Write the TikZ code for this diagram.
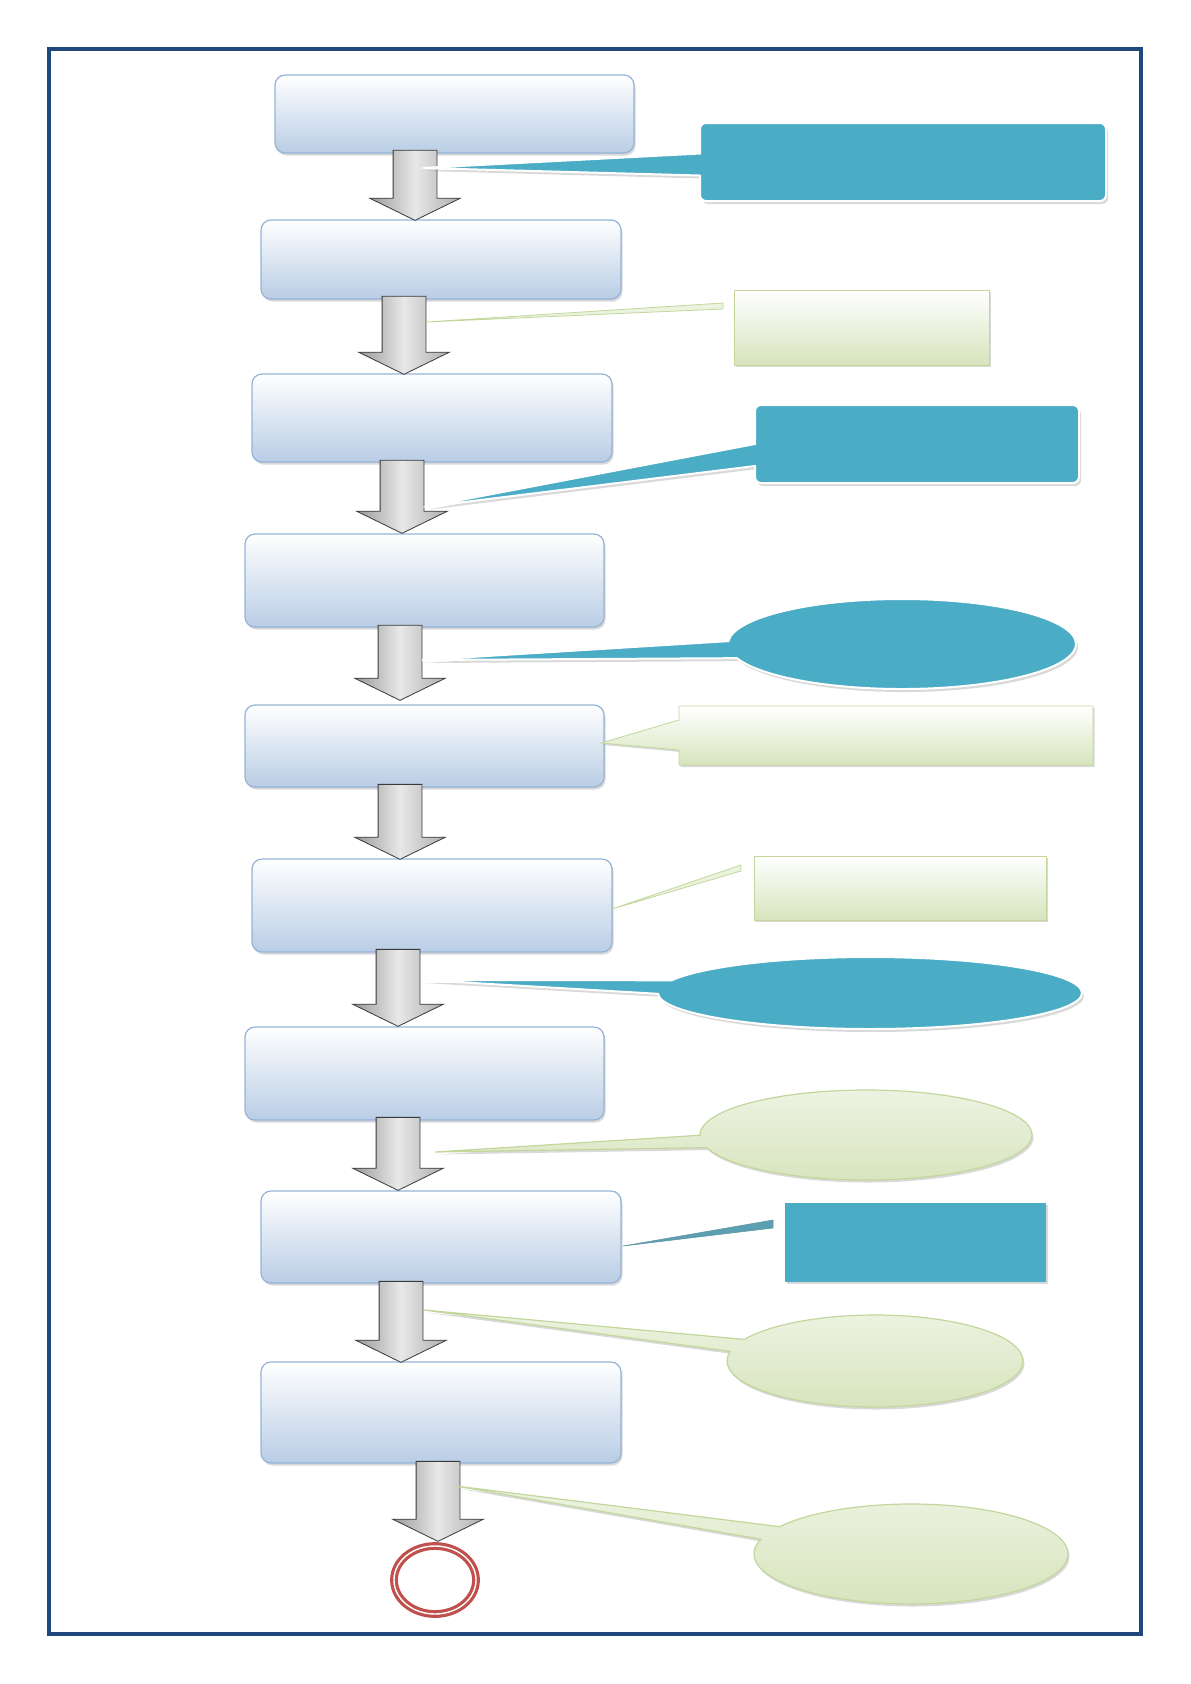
\documentclass[tikz,border=0pt]{standalone}
\usepackage{tikz}
\usetikzlibrary{shapes.arrows,shapes.callouts,shapes.geometric,shadows}

\definecolor{framebl}{RGB}{31,73,125}
\definecolor{boxedge}{RGB}{149,179,215}
\definecolor{boxfill}{RGB}{185,205,229}
\definecolor{aqua}{RGB}{75,172,198}
\definecolor{leaf}{RGB}{215,228,189}
\definecolor{leafedge}{RGB}{195,214,155}
\definecolor{ringred}{RGB}{192,80,77}

\begin{document}
\begin{tikzpicture}[
  x=1pt, y=-1pt,
  stepbox/.style={rectangle, rounded corners=10pt, draw=boxedge, line width=1.2pt, top color=white, bottom color=boxfill, inner sep=0pt, drop shadow={opacity=0.3, shadow xshift=1.5pt, shadow yshift=-2.5pt}},
  downarr/.style={single arrow, shape border rotate=270, draw=gray!45!black, line width=0.8pt, left color=gray!80, right color=gray!65, middle color=gray!18, single arrow head extend=23.5pt, single arrow tip angle=128, inner sep=21.5pt},
  aquanote/.style={rectangle callout, rounded corners=6pt, fill=aqua, draw=white, line width=2pt, inner sep=0pt, callout pointer width=22pt, drop shadow={opacity=0.3, shadow xshift=2pt, shadow yshift=-3pt}},
  aquaoval/.style={ellipse callout, fill=aqua, draw=white, line width=2pt, inner sep=0pt, callout pointer arc=22, drop shadow={opacity=0.3, shadow xshift=2pt, shadow yshift=-3pt}},
  leafnote/.style={rectangle, top color=white, bottom color=leaf, draw=leafedge, line width=0.6pt, inner sep=0pt, drop shadow={opacity=0.3, shadow xshift=1.5pt, shadow yshift=-2pt}},
  leafcall/.style={rectangle callout, top color=white, bottom color=leaf, draw=leafedge, line width=0.8pt, inner sep=0pt, callout pointer width=30pt, drop shadow={opacity=0.3, shadow xshift=1.5pt, shadow yshift=-2pt}},
  leafoval/.style={ellipse callout, top color=leaf!45, bottom color=leaf, draw=leafedge, line width=1.2pt, inner sep=0pt, callout pointer arc=16, drop shadow={opacity=0.3, shadow xshift=1.5pt, shadow yshift=-2.5pt}},
  thinptr/.style={fill=leaf!50, draw=leafedge, line width=0.8pt},
  aquaptr/.style={fill=aqua!70!gray, draw=aqua!55!gray, line width=0.6pt},
  endring/.style={ellipse, draw=ringred, line width=3.2pt, double=white, double distance=1.4pt, inner sep=0pt}
]
\useasboundingbox (0,0) rectangle (1191,1684);

% page frame
\draw[framebl, line width=4.5pt] (49,49) rectangle (1141,1634);

% process steps
\node[stepbox, minimum width=359pt, minimum height=78pt] (s1) at (454.5,114) {};
\node[stepbox, minimum width=360pt, minimum height=79pt] (s2) at (441,259.5) {};
\node[stepbox, minimum width=360pt, minimum height=88pt] (s3) at (432,418) {};
\node[stepbox, minimum width=359pt, minimum height=93pt] (s4) at (424.5,580.5) {};
\node[stepbox, minimum width=359pt, minimum height=82pt] (s5) at (424.5,746) {};
\node[stepbox, minimum width=360pt, minimum height=93pt] (s6) at (432,905.5) {};
\node[stepbox, minimum width=359pt, minimum height=93pt] (s7) at (424.5,1073.5) {};
\node[stepbox, minimum width=360pt, minimum height=92pt] (s8) at (441,1237) {};
\node[stepbox, minimum width=360pt, minimum height=101pt] (s9) at (441,1412.5) {};

% block arrows
\node[downarr, minimum height=70pt] (a1) at (415,180) {};
\node[downarr, minimum height=78pt] (a2) at (404,330) {};
\node[downarr, minimum height=73pt] (a3) at (402,491.5) {};
\node[downarr, minimum height=75pt] (a4) at (400,657.5) {};
\node[downarr, minimum height=75pt] (a5) at (400,816.5) {};
\node[downarr, minimum height=77pt] (a6) at (398,982.5) {};
\node[downarr, minimum height=73pt] (a7) at (398,1148.5) {};
\node[downarr, minimum height=81pt] (a8) at (401,1316.5) {};
\node[downarr, minimum height=80pt] (a9) at (438,1496) {};

% end
\node[endring, minimum width=82pt, minimum height=68pt] (fin) at (435,1580) {};

% pointer tips
\coordinate (p1) at (422,168);
\coordinate (p2) at (426,322);
\coordinate (p3) at (424,507);
\coordinate (p4) at (422,660);
\coordinate (p5) at (601,743);
\coordinate (p6) at (612,909);
\coordinate (p7) at (422,980);
\coordinate (p8) at (435,1152);
\coordinate (p9) at (623,1246);
\coordinate (p10) at (424,1310);
\coordinate (p11) at (456,1486);

% free ends of the loose pointers
\coordinate (q2a) at (723,303);
\coordinate (q2b) at (723,309);
\coordinate (q6a) at (741,865);
\coordinate (q6b) at (741,871);
\coordinate (q9a) at (773,1220);
\coordinate (q9b) at (773,1228);

% notes
\node[aquanote, minimum width=406pt, minimum height=78pt, callout absolute pointer={(p1)}] (n1) at (903,162) {};
\node[leafnote, minimum width=255pt, minimum height=75pt] (n2) at (861.5,327.5) {};
\node[aquanote, minimum width=324pt, minimum height=78pt, callout absolute pointer={(p3)}] (n3) at (917,444) {};
\node[aquaoval, minimum width=348pt, minimum height=90pt, callout absolute pointer={(p4)}] (n4) at (902,644) {};
\node[leafcall, minimum width=414pt, minimum height=59pt, callout absolute pointer={(p5)}] (n5) at (886,735.5) {};
\node[leafnote, minimum width=292pt, minimum height=64pt] (n6) at (900,888) {};
\node[aquaoval, minimum width=424pt, minimum height=72pt, callout absolute pointer={(p7)}] (n7) at (870,993) {};
\node[leafoval, minimum width=332pt, minimum height=90pt, callout absolute pointer={(p8)}] (n8) at (866,1135) {};
\node[rectangle, fill=aqua, inner sep=0pt, minimum width=261pt, minimum height=79pt, drop shadow={opacity=0.3, shadow xshift=1.5pt, shadow yshift=-2pt}] (n9) at (915.5,1242.5) {};
\node[leafoval, minimum width=296pt, minimum height=92pt, callout absolute pointer={(p10)}] (n10) at (875,1361) {};
\node[leafoval, minimum width=314pt, minimum height=100pt, callout absolute pointer={(p11)}] (n11) at (911,1554) {};

% loose pointers
\filldraw[thinptr] (p2) -- (q2a) -- (q2b) -- cycle;
\filldraw[thinptr] (p6) -- (q6a) -- (q6b) -- cycle;
\filldraw[aquaptr] (p9) -- (q9a) -- (q9b) -- cycle;
\end{tikzpicture}
\end{document}
